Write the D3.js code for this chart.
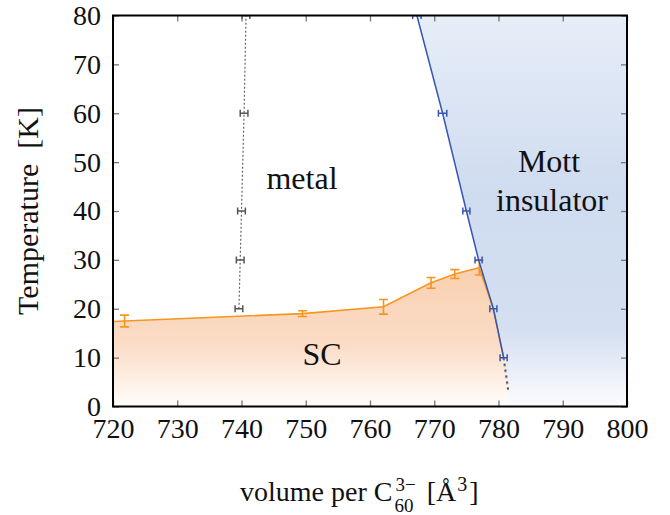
<!DOCTYPE html>
<html>
<head>
<meta charset="utf-8">
<script src="https://cdn.jsdelivr.net/npm/d3@7"></script>
<style>
  body { margin: 0; background: #fff; }
  svg text { font-family: "Liberation Serif", "Times New Roman", serif; fill: #111; }
</style>
</head>
<body>
<div id="chart"></div>
<script>
// ticks
const xTicks = [720, 730, 740, 750, 760, 770, 780, 790, 800];
const yTicks = [0, 10, 20, 30, 40, 50, 60, 70, 80];

// metal crossover (gray dotted), horizontal error bars
const metalT = [20, 30, 40, 60, 80];
const metalV = [739.6, 739.8, 740.0, 740.4, 740.7];
const metalErr = [0.6, 0.6, 0.6, 0.6, 0.6];

// Mott boundary (blue), horizontal error bars
const mottT = [80, 60, 40, 30, 20, 10];
const mottV = [767.3, 771.3, 775.0, 776.9, 779.2, 780.8];
const mottErr = [0.65, 0.65, 0.55, 0.55, 0.55, 0.55];
// dotted extension below last point
const tailV = [780.8, 781.5];
const tailT = [10, 3.4];

// superconducting dome (orange), vertical error bars
const scV = [720, 721.8, 749.5, 762.1, 769.5, 773.2, 777.0, 779.2, 780.8];
const scT = [17.4, 17.5, 19.0, 20.4, 25.3, 27.1, 28.4, 20, 10];
const scErr = [null, 1.2, 0.6, 1.5, 1.1, 0.9, 1.5, null, null];

const W = 670, H = 515;
const FONT = "'Liberation Serif', 'Times New Roman', serif";
const svg = d3.select("#chart").append("svg")
    .attr("width", W)
    .attr("height", H)
    .attr("font-family", FONT);

const m = {left: 113, right: 627, top: 15.5, bottom: 406.5};

const x = d3.scaleLinear().domain([720, 800]).range([m.left, m.right]);
const y = d3.scaleLinear().domain([0, 80]).range([m.bottom, m.top]);

const defs = svg.append("defs");
defs.append("clipPath").attr("id", "plot")
    .append("rect")
    .attr("x", m.left).attr("y", m.top)
    .attr("width", m.right - m.left).attr("height", m.bottom - m.top);

const blueGrad = defs.append("linearGradient")
    .attr("id", "blueGrad")
    .attr("gradientUnits", "userSpaceOnUse")
    .attr("x1", 0).attr("x2", 0)
    .attr("y1", y(80)).attr("y2", y(0));
blueGrad.append("stop").attr("offset", "0%").attr("stop-color", "#e6eef8");
blueGrad.append("stop").attr("offset", "45%").attr("stop-color", "#cfdbef");
blueGrad.append("stop").attr("offset", "80%").attr("stop-color", "#d4dff1");
blueGrad.append("stop").attr("offset", "100%").attr("stop-color", "#fbfcfe");

const orangeGrad = defs.append("linearGradient")
    .attr("id", "orangeGrad")
    .attr("gradientUnits", "userSpaceOnUse")
    .attr("x1", 0).attr("x2", 0)
    .attr("y1", y(28.5)).attr("y2", y(0));
orangeGrad.append("stop").attr("offset", "0%").attr("stop-color", "#f9d0b0");
orangeGrad.append("stop").attr("offset", "55%").attr("stop-color", "#fbdcc6");
orangeGrad.append("stop").attr("offset", "100%").attr("stop-color", "#fffdfb");

const plot = svg.append("g").attr("clip-path", "url(#plot)");
const lineGen = d3.line().x(d => x(d[0])).y(d => y(d[1]));

// Mott insulator region
const mottPts = mottV.map((v, i) => [v, mottT[i]]);
// extend top segment above the frame
const slope = (mottV[0] - mottV[1]) / (mottT[0] - mottT[1]);
const mottTop = [mottV[0] + slope * 10, 90];
const blueRegion = [mottTop].concat(mottPts)
    .concat([[tailV[1], tailT[1]], [tailV[1], 0], [800, 0], [800, 90]]);
plot.append("path")
    .attr("d", lineGen(blueRegion) + "Z")
    .attr("fill", "url(#blueGrad)");

// SC region
const scPts = scV.map((v, i) => [v, scT[i]]);
const orangeRegion = [[720, 0]].concat(scPts).concat([[tailV[1], tailT[1]], [tailV[1], 0]]);
plot.append("path")
    .attr("d", lineGen(orangeRegion) + "Z")
    .attr("fill", "url(#orangeGrad)");

// ticks on all four sides
const tickColor = "#777";
function styleAxis(g, labels) {
    g.attr("font-family", FONT).attr("font-size", 28);
    g.select(".domain").remove();
    g.selectAll(".tick line").attr("stroke", tickColor).attr("stroke-width", 1.3);
    if (!labels) g.selectAll(".tick text").remove();
    else g.selectAll(".tick text")
        .attr("fill", "#111")
        .style("font-family", FONT)
        .style("font-size", "28px");
}
svg.append("g").attr("transform", `translate(0,${m.bottom})`)
    .call(d3.axisBottom(x).tickValues(xTicks).tickSize(-6).tickPadding(12))
    .call(g => styleAxis(g, true));
svg.append("g").attr("transform", `translate(0,${m.top})`)
    .call(d3.axisTop(x).tickValues(xTicks).tickSize(-6))
    .call(g => styleAxis(g, false));
svg.append("g").attr("transform", `translate(${m.left},0)`)
    .call(d3.axisLeft(y).tickValues(yTicks).tickSize(-6).tickPadding(12))
    .call(g => styleAxis(g, true));
svg.append("g").attr("transform", `translate(${m.right},0)`)
    .call(d3.axisRight(y).tickValues(yTicks).tickSize(-6))
    .call(g => styleAxis(g, false));

// metal crossover
const metalPts = metalV.map((v, i) => [v, metalT[i]]);
plot.append("path")
    .attr("d", lineGen(metalPts.concat([[metalV[4] + (metalV[4] - metalV[3]) / 2, 90]])))
    .attr("fill", "none")
    .attr("stroke", "#666")
    .attr("stroke-width", 1.2)
    .attr("stroke-dasharray", "2,2");

function hBars(vs, ts, errs, color, cap) {
    const g = plot.append("g").attr("stroke", color).attr("stroke-width", 1.5);
    vs.forEach((v, i) => {
        const x0 = x(v - errs[i]), x1 = x(v + errs[i]), yy = y(ts[i]);
        g.append("line").attr("x1", x0).attr("x2", x1).attr("y1", yy).attr("y2", yy);
        g.append("line").attr("x1", x0).attr("x2", x0).attr("y1", yy - cap).attr("y2", yy + cap);
        g.append("line").attr("x1", x1).attr("x2", x1).attr("y1", yy - cap).attr("y2", yy + cap);
    });
}
hBars(metalV, metalT, metalErr, "#555", 3.5);

// SC line
plot.append("path")
    .attr("d", lineGen(scPts))
    .attr("fill", "none")
    .attr("stroke", "#f7961f")
    .attr("stroke-width", 1.6);
plot.append("path")
    .attr("d", lineGen(tailV.map((v, i) => [v, tailT[i]])))
    .attr("fill", "none")
    .attr("stroke", "#f7961f")
    .attr("stroke-width", 2)
    .attr("stroke-dasharray", "2,4")
    .attr("stroke-dashoffset", -1);

const scBars = plot.append("g").attr("stroke", "#f7961f").attr("stroke-width", 1.6);
scV.forEach((v, i) => {
    if (scErr[i] == null) return;
    const xx = x(v), y0 = y(scT[i] - scErr[i]), y1 = y(scT[i] + scErr[i]);
    scBars.append("line").attr("x1", xx).attr("x2", xx).attr("y1", y0).attr("y2", y1);
    scBars.append("line").attr("x1", xx - 4.5).attr("x2", xx + 4.5).attr("y1", y0).attr("y2", y0);
    scBars.append("line").attr("x1", xx - 4.5).attr("x2", xx + 4.5).attr("y1", y1).attr("y2", y1);
});

// Mott line
plot.append("path")
    .attr("d", lineGen([mottTop].concat(mottPts)))
    .attr("fill", "none")
    .attr("stroke", "#3656b3")
    .attr("stroke-width", 1.5);
plot.append("path")
    .attr("d", lineGen(tailV.map((v, i) => [v, tailT[i]])))
    .attr("fill", "none")
    .attr("stroke", "#3656b3")
    .attr("stroke-width", 2)
    .attr("stroke-dasharray", "2,4");
hBars(mottV, mottT, mottErr, "#3656b3", 3.5);

// frame
svg.append("rect")
    .attr("x", m.left).attr("y", m.top)
    .attr("width", m.right - m.left).attr("height", m.bottom - m.top)
    .attr("fill", "none")
    .attr("stroke", "#000")
    .attr("stroke-width", 2);

// region labels
const lab = svg.append("g").attr("font-size", 32).style("font-family", FONT);
lab.append("text").attr("x", 302).attr("y", 189).attr("text-anchor", "middle").text("metal");
lab.append("text").attr("x", 549).attr("y", 172).attr("text-anchor", "middle").text("Mott");
lab.append("text").attr("x", 552).attr("y", 211).attr("text-anchor", "middle").text("insulator");
lab.append("text").attr("x", 322).attr("y", 365).attr("text-anchor", "middle").text("SC");

// y axis title
svg.append("text")
    .attr("transform", "translate(38,211) rotate(-90)")
    .attr("text-anchor", "middle")
    .style("font-size", "30px")
    .style("white-space", "pre")
    .text("Temperature  [K]");

// x axis title with stacked sub/superscript
const xt = svg.append("g").style("font-size", "28px");
const t1 = xt.append("text").attr("x", 240).attr("y", 501).text("volume per C");
const w1 = t1.node().getComputedTextLength();
const sx = 240 + w1 + 2;
const sup = xt.append("text").attr("x", sx + 1).attr("y", 491).style("font-size", "19px").text("3\u2212");
const sub = xt.append("text").attr("x", sx).attr("y", 512).style("font-size", "19px").text("60");
const ws = Math.max(sup.node().getComputedTextLength() + 1, sub.node().getComputedTextLength());
const x2 = sx + ws + 11;
const t2 = xt.append("text").attr("x", x2).attr("y", 501).text("[\u00c5");
const w2 = t2.node().getComputedTextLength();
const s3 = xt.append("text").attr("x", x2 + w2 + 1).attr("y", 491).style("font-size", "20px").text("3");
const w3 = s3.node().getComputedTextLength();
xt.append("text").attr("x", x2 + w2 + 1 + w3 + 2).attr("y", 501).text("]");
</script>
</body>
</html>
